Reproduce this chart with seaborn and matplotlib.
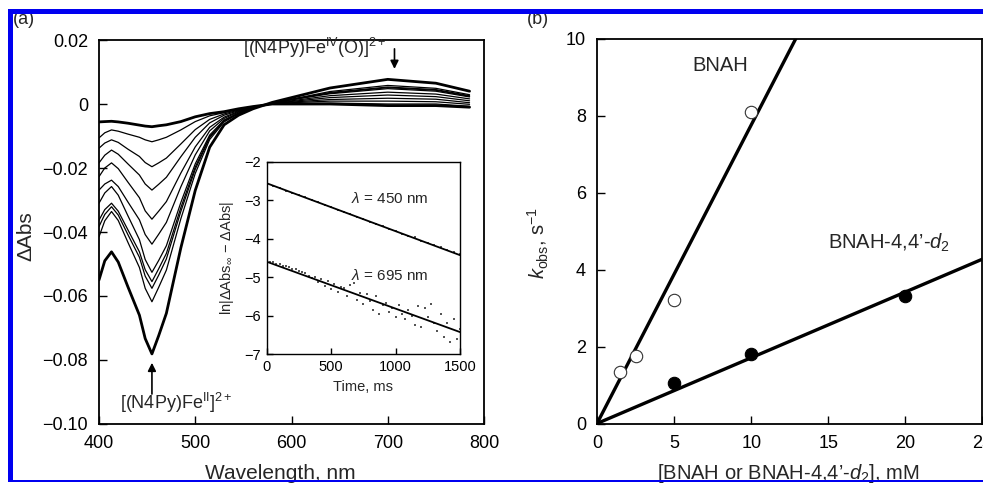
import matplotlib
matplotlib.use("Agg")
import matplotlib.pyplot as plt
import seaborn as sns
from matplotlib.patches import Rectangle

# ---------------- data: panel (a) spectra ----------------
wavelength_nm = [400, 406, 413, 420, 430, 442, 448, 455, 462, 470, 485, 500, 515, 530, 545, 560, 580, 600, 640, 700, 750, 785]
spec_01 = [-0.0056, -0.0055, -0.0054, -0.0056, -0.0060, -0.0066, -0.0069, -0.0071, -0.0068, -0.0065, -0.0055, -0.0040, -0.0030, -0.0024, -0.0015, -0.0008, 0.0000, 0.0000, 0.0000, -0.0005, -0.0005, -0.0010]
spec_02 = [-0.0106, -0.0090, -0.0081, -0.0085, -0.0094, -0.0104, -0.0112, -0.0118, -0.0112, -0.0104, -0.0081, -0.0055, -0.0037, -0.0027, -0.0016, -0.0008, 0.0000, 0.0001, 0.0003, 0.0000, 0.0000, -0.0007]
spec_03 = [-0.0138, -0.0122, -0.0112, -0.0120, -0.0141, -0.0164, -0.0183, -0.0196, -0.0184, -0.0169, -0.0125, -0.0080, -0.0048, -0.0031, -0.0019, -0.0009, 0.0001, 0.0004, 0.0009, 0.0009, 0.0007, -0.0001]
spec_04 = [-0.0184, -0.0160, -0.0144, -0.0157, -0.0187, -0.0222, -0.0250, -0.0269, -0.0251, -0.0229, -0.0165, -0.0104, -0.0059, -0.0035, -0.0021, -0.0010, 0.0001, 0.0006, 0.0014, 0.0018, 0.0015, 0.0004]
spec_05 = [-0.0227, -0.0200, -0.0184, -0.0202, -0.0244, -0.0293, -0.0334, -0.0360, -0.0335, -0.0305, -0.0216, -0.0134, -0.0073, -0.0041, -0.0023, -0.0011, 0.0002, 0.0008, 0.0020, 0.0028, 0.0023, 0.0010]
spec_06 = [-0.0269, -0.0250, -0.0238, -0.0258, -0.0306, -0.0362, -0.0408, -0.0438, -0.0407, -0.0370, -0.0259, -0.0159, -0.0084, -0.0045, -0.0025, -0.0012, 0.0003, 0.0010, 0.0026, 0.0037, 0.0031, 0.0016]
spec_07 = [-0.0310, -0.0278, -0.0258, -0.0285, -0.0349, -0.0424, -0.0486, -0.0526, -0.0489, -0.0443, -0.0308, -0.0187, -0.0097, -0.0050, -0.0028, -0.0012, 0.0003, 0.0013, 0.0032, 0.0048, 0.0040, 0.0022]
spec_08 = [-0.0363, -0.0330, -0.0310, -0.0335, -0.0393, -0.0462, -0.0518, -0.0555, -0.0515, -0.0467, -0.0324, -0.0197, -0.0102, -0.0052, -0.0029, -0.0013, 0.0003, 0.0014, 0.0034, 0.0051, 0.0043, 0.0024]
spec_09 = [-0.0383, -0.0345, -0.0321, -0.0347, -0.0408, -0.0479, -0.0538, -0.0576, -0.0535, -0.0484, -0.0336, -0.0204, -0.0105, -0.0053, -0.0029, -0.0013, 0.0004, 0.0014, 0.0036, 0.0053, 0.0045, 0.0026]
spec_10 = [-0.0415, -0.0365, -0.0336, -0.0364, -0.0432, -0.0511, -0.0576, -0.0618, -0.0573, -0.0519, -0.0359, -0.0217, -0.0111, -0.0056, -0.0030, -0.0013, 0.0004, 0.0015, 0.0039, 0.0058, 0.0049, 0.0029]
spec_11 = [-0.0550, -0.0490, -0.0462, -0.0494, -0.0571, -0.0660, -0.0733, -0.0781, -0.0724, -0.0654, -0.0450, -0.0270, -0.0135, -0.0065, -0.0035, -0.0015, 0.0005, 0.0020, 0.0050, 0.0077, 0.0065, 0.0040]
thin_spectra = [spec_02, spec_03, spec_04, spec_05, spec_06, spec_07, spec_08, spec_09, spec_10]
thick_spectra = [spec_01, spec_11]

# ---------------- data: inset kinetics ----------------
time_450_ms = [0, 50, 100, 150, 200, 250, 300, 350, 400, 450, 500, 550, 600, 650, 700, 750,
               800, 850, 900, 950, 1000, 1050, 1100, 1150, 1200, 1250, 1300, 1350, 1400, 1450, 1500]
lnabs_450 = [-2.56, -2.62, -2.68, -2.75, -2.81, -2.87, -2.93, -2.99, -3.06, -3.12, -3.18, -3.25, -3.31, -3.37, -3.43, -3.50,
             -3.56, -3.62, -3.68, -3.74, -3.80, -3.87, -3.92, -3.97, -4.05, -4.11, -4.16, -4.23, -4.30, -4.35, -4.40]
time_695_ms = [0, 25, 50, 75, 100, 125, 150, 175, 200, 225, 250, 275, 300, 325, 350, 375, 400, 425, 450, 475,
               500, 525, 550, 575, 600, 625, 650, 675, 700, 725, 750, 775, 800, 825, 850, 875, 900, 925, 950, 975,
               1000, 1025, 1050, 1075, 1100, 1125, 1150, 1175, 1200, 1225, 1250, 1275, 1300, 1325, 1350, 1375,
               1400, 1425, 1450, 1475, 1500]
lnabs_695 = [-4.58, -4.60, -4.62, -4.65, -4.66, -4.70, -4.72, -4.74, -4.78, -4.79, -4.84, -4.87, -4.90, -4.98, -5.02, -5.00,
             -5.12, -5.05, -5.22, -5.10, -5.30, -5.18, -5.40, -5.25, -5.28, -5.50, -5.20, -5.15, -5.60, -5.42, -5.70,
             -5.45, -5.62, -5.85, -5.50, -5.95, -5.72, -5.68, -5.90, -5.80, -6.05, -5.72, -5.95, -6.10, -5.85, -6.00,
             -6.25, -5.75, -6.30, -5.80, -6.05, -5.70, -6.20, -6.40, -5.95, -6.55, -6.20, -6.70, -6.10, -6.60, -6.35]
fit_time_ms = [0, 1500]
fit_450 = [-2.56, -4.43]
fit_695 = [-4.60, -6.43]

# ---------------- data: panel (b) ----------------
bnah_conc_mM = [1.5, 2.5, 5, 10]
bnah_kobs = [1.35, 1.75, 3.2, 8.1]
bnahd2_conc_mM = [5, 10, 20]
bnahd2_kobs = [1.05, 1.8, 3.3]
fit_bnah_x = [0, 13]
fit_bnah_y = [0, 10.08]
fit_d2_x = [0, 25]
fit_d2_y = [0, 4.27]

# ---------------- style ----------------
sns.set_style("white")
plt.rcParams["font.family"] = ["Liberation Sans", "DejaVu Sans"]
plt.rcParams["mathtext.fontset"] = "custom"
plt.rcParams["mathtext.rm"] = "Liberation Sans"
plt.rcParams["mathtext.it"] = "Liberation Sans:italic"
plt.rcParams["mathtext.bf"] = "Liberation Sans:bold"
plt.rcParams["axes.unicode_minus"] = True

W, H = 983, 483
fig = plt.figure(figsize=(W / 100, H / 100), dpi=100)
fig.patch.set_facecolor("white")


def fx(px):
    return px / W


def fy(py):
    return 1 - py / H


def style_axes(ax, fs, lw=1.3, length=6, pad=8):
    for s in ax.spines.values():
        s.set_color("black")
        s.set_linewidth(lw)
        s.set_visible(True)
    ax.tick_params(direction="in", length=length, width=1.0, labelsize=fs, pad=pad,
                   top=False, right=False, left=True, bottom=True, colors="black")
    ax.set_facecolor("white")


# ---------------- panel (a) ----------------
axA = fig.add_axes([fx(99), fy(424), fx(484 - 99), (424 - 40) / H])
for sp in thin_spectra:
    sns.lineplot(x=wavelength_nm, y=sp, ax=axA, color="black", linewidth=0.9, estimator=None, sort=False)
for sp in thick_spectra:
    sns.lineplot(x=wavelength_nm, y=sp, ax=axA, color="black", linewidth=2.0, estimator=None, sort=False)
axA.set_xlim(400, 800)
axA.set_ylim(-0.10, 0.02)
axA.set_xticks([400, 500, 600, 700, 800])
axA.set_yticks([0.02, 0.0, -0.02, -0.04, -0.06, -0.08, -0.10])
axA.set_yticklabels(["0.02", "0", "\u22120.02", "\u22120.04", "\u22120.06", "\u22120.08", "\u22120.10"])
style_axes(axA, 13)
axA.set_xlabel("Wavelength, nm", fontsize=15)
axA.xaxis.set_label_coords(0.47, -0.105)
axA.set_ylabel("\u0394Abs", fontsize=15)
axA.yaxis.set_label_coords(-0.166, 0.49)

axA.annotate("", xy=(707, 0.0101), xytext=(707, 0.0181),
             arrowprops=dict(arrowstyle="-|>", color="black", lw=1.2, mutation_scale=12))
axA.text(550, 0.0175, r"[(N4Py)Fe$^{\rm IV}$(O)]$^{2+}$", fontsize=13, ha="left", va="center")
axA.annotate("", xy=(455, -0.0800), xytext=(455, -0.0915),
             arrowprops=dict(arrowstyle="-|>", color="black", lw=1.2, mutation_scale=12))
axA.text(480, -0.0934, r"[(N4Py)Fe$^{\rm II}$]$^{2+}$", fontsize=13, ha="center", va="center")

# ---------------- inset ----------------
axI = fig.add_axes([fx(266.7), fy(354), fx(460 - 266.7), (354 - 161.7) / H])
sns.scatterplot(x=time_695_ms, y=lnabs_695, ax=axI, color="#555555", s=3, linewidth=0, marker="s")
sns.scatterplot(x=time_450_ms, y=lnabs_450, ax=axI, color="#555555", s=3, linewidth=0, marker="s")
sns.lineplot(x=fit_time_ms, y=fit_450, ax=axI, color="black", linewidth=1.3, estimator=None, sort=False)
sns.lineplot(x=fit_time_ms, y=fit_695, ax=axI, color="black", linewidth=1.3, estimator=None, sort=False)
axI.set_xlim(0, 1500)
axI.set_ylim(-7, -2)
axI.set_xticks([0, 500, 1000, 1500])
axI.set_yticks([-2, -3, -4, -5, -6, -7])
style_axes(axI, 10.5, lw=1.0, length=4, pad=4)
axI.set_xlabel("Time, ms", fontsize=10.5)
axI.xaxis.set_label_coords(0.5, -0.135)
axI.set_ylabel(r"ln|$\Delta$Abs$_{\infty}$ $-$ $\Delta$Abs|", fontsize=10.5)
axI.yaxis.set_label_coords(-0.159, 0.5)
axI.text(957, -2.95, r"$\lambda$ = 450 nm", fontsize=11, ha="center", va="center")
axI.text(957, -4.95, r"$\lambda$ = 695 nm", fontsize=11, ha="center", va="center")

# ---------------- panel (b) ----------------
axB = fig.add_axes([fx(597), fy(423.5), fx(982.5 - 597), (423.5 - 38.5) / H])
sns.lineplot(x=fit_bnah_x, y=fit_bnah_y, ax=axB, color="black", linewidth=2.4, estimator=None, sort=False)
sns.lineplot(x=fit_d2_x, y=fit_d2_y, ax=axB, color="black", linewidth=2.4, estimator=None, sort=False)
sns.scatterplot(x=bnah_conc_mM, y=bnah_kobs, ax=axB, s=80, facecolor="white", edgecolor="#333333",
                linewidth=0.8, zorder=5)
sns.scatterplot(x=bnahd2_conc_mM, y=bnahd2_kobs, ax=axB, s=80, color="black", edgecolor="black",
                linewidth=0.8, zorder=5)
axB.set_xlim(0, 25)
axB.set_ylim(0, 10)
axB.set_xticks([0, 5, 10, 15, 20, 25])
axB.set_yticks([0, 2, 4, 6, 8, 10])
style_axes(axB, 13)
axB.set_xlabel("[BNAH or BNAH-4,4\u2019-$d_2$], mM", fontsize=14.5)
axB.xaxis.set_label_coords(0.495, -0.1)
axB.set_ylabel(r"$k_{\rm obs}$, s$^{-1}$", fontsize=14.5)
axB.yaxis.set_label_coords(-0.119, 0.47)
axB.text(6.2, 9.29, "BNAH", fontsize=14.5, ha="left", va="center")
axB.text(14.97, 4.69, "BNAH-4,4\u2019-$d_2$", fontsize=14.5, ha="left", va="center")

# ---------------- panel letters ----------------
fig.text(fx(13), fy(11), "(a)", fontsize=13, ha="left", va="top")
fig.text(fx(527), fy(11), "(b)", fontsize=13, ha="left", va="top")

# ---------------- blue frame ----------------
blue = "#0000f0"
fig.add_artist(Rectangle((fx(8), fy(14)), 1 - fx(8), 5 / H, transform=fig.transFigure,
                         color=blue, zorder=20, lw=0))
fig.add_artist(Rectangle((fx(8), fy(482)), 5 / W, (482 - 9) / H, transform=fig.transFigure,
                         color=blue, zorder=20, lw=0))
fig.add_artist(Rectangle((fx(8), fy(482)), 1 - fx(8), 2 / H, transform=fig.transFigure,
                         color=blue, zorder=20, lw=0))

fig.savefig("out.png", dpi=100, facecolor="white")
